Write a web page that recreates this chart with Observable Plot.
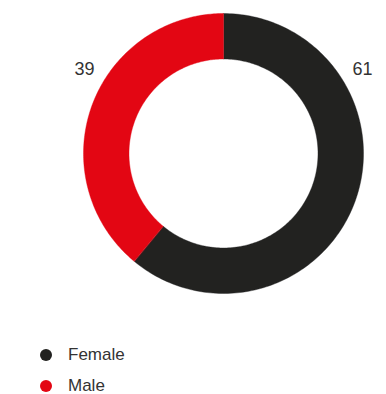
<!DOCTYPE html>
<html>
<head>
<meta charset="utf-8">
<script src="https://cdn.jsdelivr.net/npm/d3@7"></script>
<script src="https://cdn.jsdelivr.net/npm/@observablehq/plot@0.6"></script>
<style>
  html, body { margin: 0; padding: 0; background: #fff; }
  body { width: 386px; height: 394px; overflow: hidden; font-family: "Liberation Sans", Arial, sans-serif; }
  .legend { margin-top: 24px; padding-left: 40px; }
  .legend .row { display: flex; align-items: center; height: 31px; }
  .legend .dot { width: 12px; height: 12px; border-radius: 50%; margin-right: 16px; }
  .legend .lbl { font-size: 17px; color: #333; }
</style>
</head>
<body>
<div id="chart"></div>
<div class="legend" id="legend"></div>
<script>
const categories = ["Female", "Male"];
const values = [61, 39];
const colors = ["#222220", "#e30613"];

const W = 386, H = 315;
const cx = 223, cy = 153;        // pixel centre of the ring
const rOuter = 140, rInner = 94.5;

// slice angles from the values
const arcs = d3.pie().sort(null).value(d => d)(values);

// ring polygons in data space (1 unit = 1 px, y up)
const ring = [];
arcs.forEach((a, i) => {
  const n = 180;
  for (let k = 0; k <= n; k++) {
    const t = a.startAngle + (a.endAngle - a.startAngle) * k / n;
    ring.push({cat: categories[i], x: rOuter * Math.sin(t), y: rOuter * Math.cos(t)});
  }
  for (let k = n; k >= 0; k--) {
    const t = a.startAngle + (a.endAngle - a.startAngle) * k / n;
    ring.push({cat: categories[i], x: rInner * Math.sin(t), y: rInner * Math.cos(t)});
  }
});

// value labels: placed on the side of the ring where the slice sits
const labels = arcs.map((a, i) => {
  const mid = (a.startAngle + a.endAngle) / 2;
  const side = Math.sin(mid) >= 0 ? 1 : -1;
  return {x: side * 139, y: 84, text: String(values[i])};
});

const chart = Plot.plot({
  width: W,
  height: H,
  margin: 0,
  x: {domain: [-cx, W - cx], axis: null},
  y: {domain: [-(H - cy), cy], axis: null},
  color: {domain: categories, range: colors},
  style: {fontFamily: "'Liberation Sans', Arial, sans-serif", background: "#fff"},
  marks: [
    Plot.line(ring, {x: "x", y: "y", z: "cat", fill: "cat", stroke: "cat", strokeWidth: 0.4, curve: "linear-closed"}),
    Plot.text(labels, {x: "x", y: "y", text: "text", fontSize: 18, fill: "#333"})
  ]
});
document.getElementById("chart").appendChild(chart);

const legend = document.getElementById("legend");
categories.forEach((c, i) => {
  const row = document.createElement("div");
  row.className = "row";
  const dot = document.createElement("div");
  dot.className = "dot";
  dot.style.background = colors[i];
  const lbl = document.createElement("div");
  lbl.className = "lbl";
  lbl.textContent = c;
  row.appendChild(dot);
  row.appendChild(lbl);
  legend.appendChild(row);
});
</script>
</body>
</html>
